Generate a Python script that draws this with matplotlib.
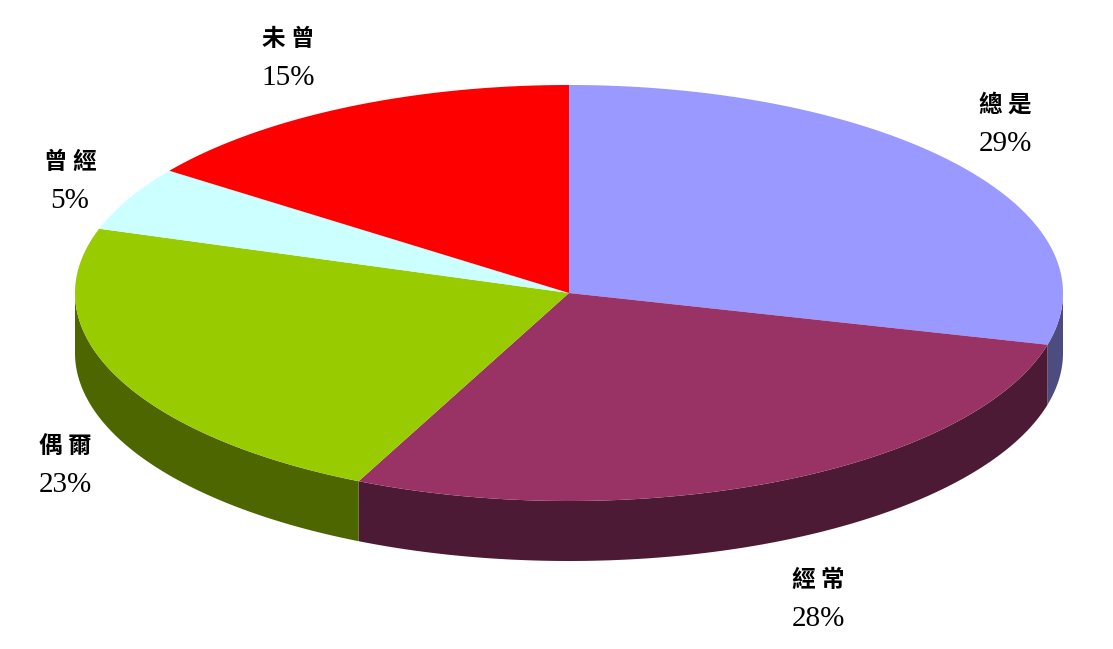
import matplotlib
matplotlib.use("Agg")
import matplotlib.pyplot as plt
from matplotlib.patches import Polygon
import numpy as np

# slice data, clockwise from 12 o'clock
labels = ["總是", "經常", "偶爾", "曾經", "未曾"]
values = [29, 28, 23, 5, 15]
top_colors = ["#9999FF", "#993366", "#99CC00", "#CCFFFF", "#FF0000"]
side_colors = ["#4C4C80", "#4D1A35", "#4D6600", "#668080", "#800000"]

# label anchor points (pixels), layout only
label_pos = [(1005, 125), (818, 600), (65, 466), (70, 182), (288, 59)]

W, H = 1113, 649
cx, cy = 569, 293
rx, ry = 494, 208
depth = 60


def ell(t):
    t = np.radians(t)
    return cx + rx * np.cos(t), cy - ry * np.sin(t)


fig = plt.figure(figsize=(W / 100, H / 100), dpi=100)
ax = fig.add_axes([0, 0, 1, 1])
ax.set_xlim(0, W)
ax.set_ylim(H, 0)
ax.axis("off")

total = float(sum(values))
starts, ends = [], []
a = 90.0
for v in values:
    starts.append(a)
    a -= v / total * 360
    ends.append(a)

# side walls: only the front half (angles -180..0, mod 360)
for s, e, c in zip(starts, ends, side_colors):
    lo, hi = e, s
    for off in (0, -360, 360):
        l2, h2 = max(lo + off, -180), min(hi + off, 0)
        if h2 > l2:
            t = np.linspace(h2, l2, 120)
            x, y = ell(t)
            pts = np.column_stack([np.concatenate([x, x[::-1]]),
                                   np.concatenate([y, y[::-1] + depth])])
            ax.add_patch(Polygon(pts, closed=True, fc=c, ec="none", zorder=1))

# top faces
for s, e, c in zip(starts, ends, top_colors):
    t = np.linspace(s, e, 200)
    x, y = ell(t)
    pts = np.column_stack([np.r_[cx, x], np.r_[cy, y]])
    ax.add_patch(Polygon(pts, closed=True, fc=c, ec="none", zorder=2))

fams = ["Liberation Serif", "Noto Sans CJK TC"]
for lab, v, (px, py) in zip(labels, values, label_pos):
    ax.text(px, py - 20, " ".join(lab), ha="center", va="center",
            fontsize=17, family=["Noto Sans CJK TC"], fontweight="bold",
            color="black")
    ax.text(px, py + 19, f"{v}%", ha="center", va="center",
            fontsize=21, family=fams, color="black")

fig.savefig("out.png", dpi=100)
